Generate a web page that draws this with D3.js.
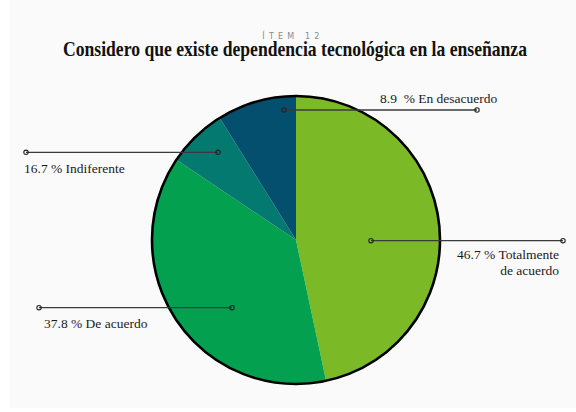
<!DOCTYPE html>
<html><head><meta charset="utf-8">
<script src="https://cdn.jsdelivr.net/npm/d3@7"></script>
<style>html,body{margin:0;padding:0;background:#fff;}svg{display:block;}</style>
</head><body>
<svg id="chart" width="576" height="412"></svg>
<script>
const categories = ["Totalmente de acuerdo", "De acuerdo", "Indiferente", "En desacuerdo"];
const values = [46.7, 37.8, 6.7, 8.9];
const labelLines = [["46.7 % Totalmente", "de acuerdo"], ["37.8 % De acuerdo"], ["16.7 % Indiferente"], ["8.9  % En desacuerdo"]];
const colors = ["#7bba26", "#03a050", "#03796f", "#034f6d"];
const subtitle = "ÍTEM 12";
const title = "Considero que existe dependencia tecnológica en la enseñanza";

const SERIF = "'Liberation Serif'";
const W = 576, H = 412, cx = 296, cy = 240, R = 144;
const svg = d3.select("#chart");
svg.append("rect").attr("x", 10).attr("y", 0).attr("width", W - 10).attr("height", 408).attr("fill", "#fafafa");

svg.append("text").attr("x", 293).attr("y", 39).attr("text-anchor", "middle")
  .style("font-family", "'DejaVu Sans'").attr("font-size", 8).attr("letter-spacing", 4.2)
  .attr("fill", "#8a8a8a").text(subtitle);
svg.append("text").attr("x", 63).attr("y", 56)
  .style("font-family", SERIF).attr("font-weight", "bold").attr("font-size", 22)
  .attr("textLength", 464).attr("lengthAdjust", "spacingAndGlyphs")
  .attr("fill", "#111").text(title);

const pie = d3.pie().sort(null).value(d => d)(values);
const arc = d3.arc().innerRadius(0).outerRadius(R);
const g = svg.append("g").attr("transform", `translate(${cx},${cy})`);
g.selectAll("path.slice").data(pie).join("path").attr("class", "slice")
  .attr("d", arc).attr("fill", (d, i) => colors[i]);
g.append("circle").attr("r", R).attr("fill", "none").attr("stroke", "#000").attr("stroke-width", 2.6);

// annotation layout: inner dot offset from centre, outer end x, label anchor
const ann = [
  {dx: 75, dy: 0.7, x2: 563, tx: 559, ty: 259, anchor: "end"},
  {dx: -64, dy: 67.7, x2: 39, tx: 44, ty: 328, anchor: "start"},
  {dx: -78, dy: -87.7, x2: 26, tx: 24, ty: 173, anchor: "start"},
  {dx: -12, dy: -130, x2: 477, tx: 380, ty: 103, anchor: "start"}
];
const ag = svg.append("g");
ann.forEach((a, i) => {
  const x1 = cx + a.dx, y = cy + a.dy;
  ag.append("line").attr("x1", x1).attr("y1", y).attr("x2", a.x2).attr("y2", y)
    .attr("stroke", "#3a3a3a").attr("stroke-width", 1.3);
  [x1, a.x2].forEach(x => ag.append("circle").attr("cx", x).attr("cy", y).attr("r", 2.2)
    .attr("fill", "none").attr("stroke", "#222").attr("stroke-width", 1.1));
  const t = ag.append("text").attr("x", a.tx).attr("y", a.ty).attr("text-anchor", a.anchor)
    .style("font-family", SERIF).attr("font-size", 13.5)
    .attr("fill", "#1a1a1a").style("white-space", "pre");
  labelLines[i].forEach((s, k) => t.append("tspan").attr("x", a.tx).attr("dy", k ? 16 : 0).text(s));
});
</script>
</body></html>
